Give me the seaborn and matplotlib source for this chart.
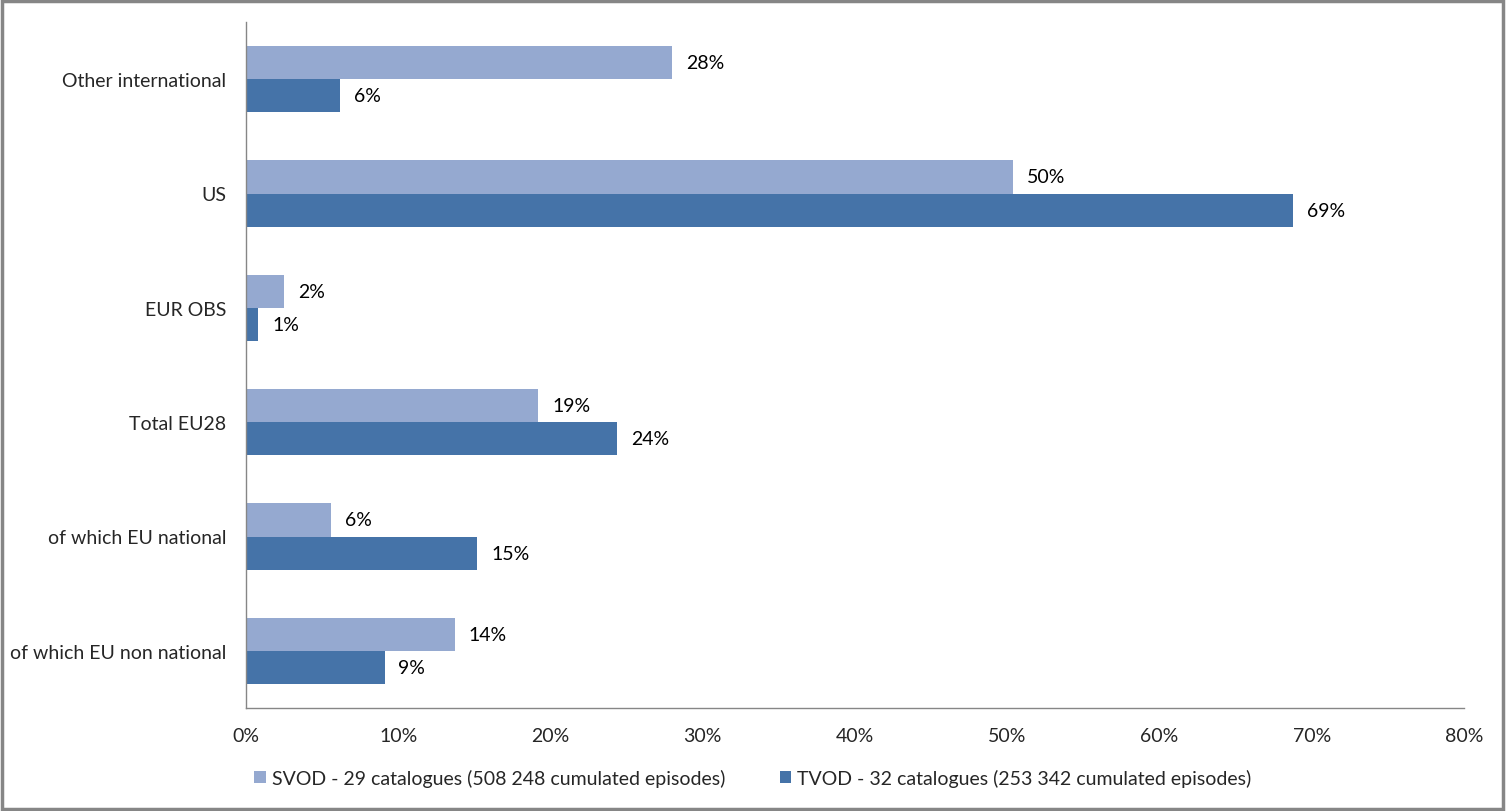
import matplotlib
matplotlib.use('Agg')
import matplotlib.pyplot as plt
import matplotlib.patches as mpatches
import numpy as np
import pandas as pd
import seaborn as sns

categories = ['Other international', 'US', 'EUR OBS', 'Total EU28',
              'of which EU national', 'of which EU non national']
svod = [28.0, 50.4, 2.5, 19.2, 5.6, 13.7]
tvod = [6.2, 68.8, 0.8, 24.4, 15.2, 9.1]
series = ['SVOD - 29 catalogues (508 248 cumulated episodes)',
          'TVOD - 32 catalogues (253 342 cumulated episodes)']
colors = ['#95A9D0', '#4573A8']
x_ticks = [0, 10, 20, 30, 40, 50, 60, 70, 80]

df = pd.DataFrame({
    'category': categories * 2,
    'value': svod + tvod,
    'series': [series[0]] * len(categories) + [series[1]] * len(categories),
})

sns.set_style('white')
plt.rcParams['font.family'] = ['Lato', 'DejaVu Sans']
plt.rcParams['font.size'] = 14

fig = plt.figure(figsize=(15.06, 8.12), dpi=100)
ax = fig.add_axes([246 / 1506, 1 - 709 / 812, (1464 - 246) / 1506, (709 - 23) / 812])

sns.barplot(data=df, y='category', x='value', hue='series', order=categories,
            hue_order=series, palette=colors, orient='h', width=0.58,
            saturation=1, linewidth=0, ax=ax, legend=True)

for cont in ax.containers:
    ax.bar_label(cont, labels=[f'{v.get_width():.0f}%' for v in cont],
                 padding=10, fontsize=14, color='#000000')

ax.set_xlim(0, 80)
ax.set_ylim(len(categories) - 0.5, -0.5)
ax.set_xticks(x_ticks)
ax.set_xticklabels([f'{t}%' for t in x_ticks])
ax.set_xlabel('')
ax.set_ylabel('')

# category boundary ticks on the y axis
ax.set_yticks(np.arange(len(categories)))
ax.set_yticklabels(categories)
ax.set_yticks(np.arange(-0.5, len(categories)), minor=True)
ax.tick_params(axis='y', which='major', length=0, pad=14)
ax.tick_params(axis='y', which='minor', length=6, width=1, color='#868686', direction='out')
ax.tick_params(axis='x', length=6, width=1, color='#868686', direction='out', pad=8)

for side in ['top', 'right']:
    ax.spines[side].set_visible(False)
for side in ['left', 'bottom']:
    ax.spines[side].set_color('#868686')
    ax.spines[side].set_linewidth(1)

handles, labels = ax.get_legend_handles_labels()
ax.get_legend().remove()
fig.legend(handles, labels, loc='center', bbox_to_anchor=(0.5, 1 - 779 / 812), ncol=2,
           frameon=False, handlelength=0.6, handleheight=0.6, handletextpad=0.3,
           columnspacing=2.8, fontsize=14)

fig.patches.append(mpatches.Rectangle((0.001, 0.002), 0.997, 0.996, transform=fig.transFigure,
                                      fill=False, edgecolor='#868686', linewidth=2.5))

fig.savefig('out.png', dpi=100, facecolor='white')
